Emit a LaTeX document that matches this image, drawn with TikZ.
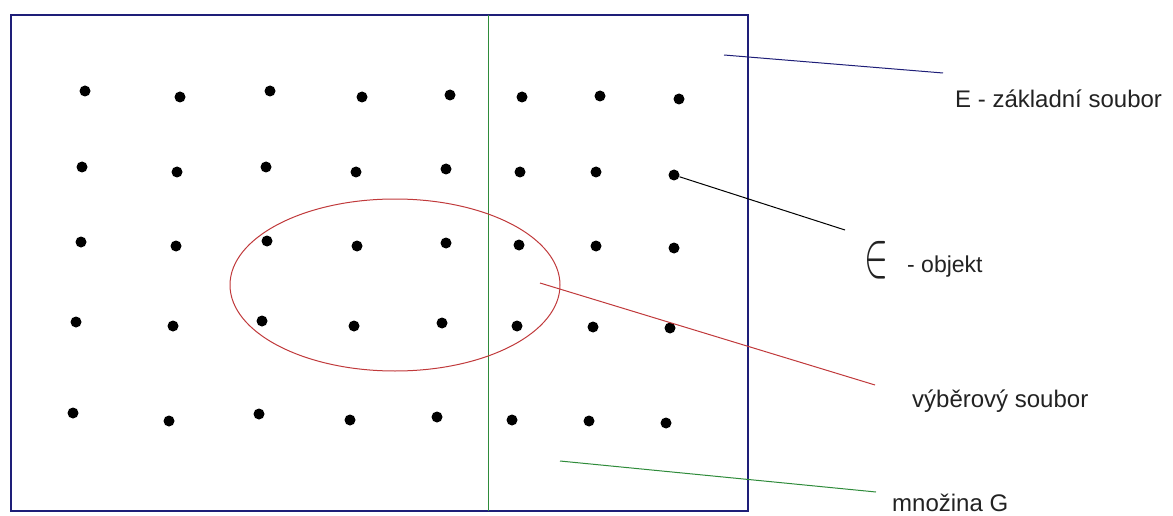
\documentclass[tikz,border=0pt]{standalone}
\usepackage{fontspec}
\setmainfont{Liberation Sans}
\usetikzlibrary{positioning}
\definecolor{framecol}{HTML}{1E1E78}
\definecolor{setgreen}{HTML}{2E8B3A}
\definecolor{samplered}{HTML}{C0393B}
\definecolor{textcol}{HTML}{222222}

\begin{document}
\begin{tikzpicture}[
  x=1pt, y=-1pt,
  font=\fontsize{24}{28}\selectfont,
  dot/.style={circle, fill=black, inner sep=0pt, minimum size=11pt},
  lbl/.style={anchor=base west, text=textcol, inner sep=0pt},
  thin line/.style={line width=1pt},
]
\useasboundingbox (0,0) rectangle (1173,516);

% --- basic set E and subset G ---
\draw[framecol, line width=2.2pt] (11,15) rectangle (748,511);
\coordinate (gtop) at (488,15);
\coordinate (gbot) at (488,511);
\draw[setgreen, thin line] (gtop) -- (gbot);

% --- objects ---
\foreach \x/\y [count=\i] in {
  85/91, 180/97, 270/91, 362/97, 450/95, 522/97, 600/96, 679/99,
  82/167, 177/172, 266/167, 356/172, 446/169, 520/172, 596/172, 674/175,
  81/242, 176/246, 267/241, 357/246, 446/243, 519/245, 596/246, 674/248,
  76/322, 173/326, 262/321, 354/326, 442/323, 517/326, 593/327, 670/328,
  73/413, 169/421, 259/414, 350/420, 437/417, 512/420, 589/421, 666/423}
  \node[dot] (d\i) at (\x,\y) {};

% --- sample ---
\draw[samplered, thin line] (395,285) ellipse (165 and 86);

% --- labels ---
\node[lbl] (basic) at (955,108) {E - základní soubor};
\node[lbl, font=\fontsize{10}{12}\selectfont] (elem) at (864,276)
  {\scalebox{3.6}[6.5]{$\in$}};
\node[lbl, font=\fontsize{23}{26}\selectfont] (obj) at (907,272) {- objekt};
\node[lbl] (sample) at (912,407) {výběrový soubor};
\node[lbl] (setg) at (892,511) {množina G};

% --- pointers ---
\coordinate (pbasic) at (724,55);
\coordinate (pbasicend) at (943,73);
\draw[framecol, thin line] (pbasic) -- (pbasicend);
\coordinate (pobjend) at (845,230);
\draw[black, thin line] (d16) -- (pobjend);
\coordinate (psample) at (540,283);
\coordinate (psampleend) at (875,385);
\draw[samplered, thin line] (psample) -- (psampleend);
\coordinate (psetg) at (560,461);
\coordinate (psetgend) at (876,492);
\draw[setgreen, thin line] (psetg) -- (psetgend);

\end{tikzpicture}
\end{document}
